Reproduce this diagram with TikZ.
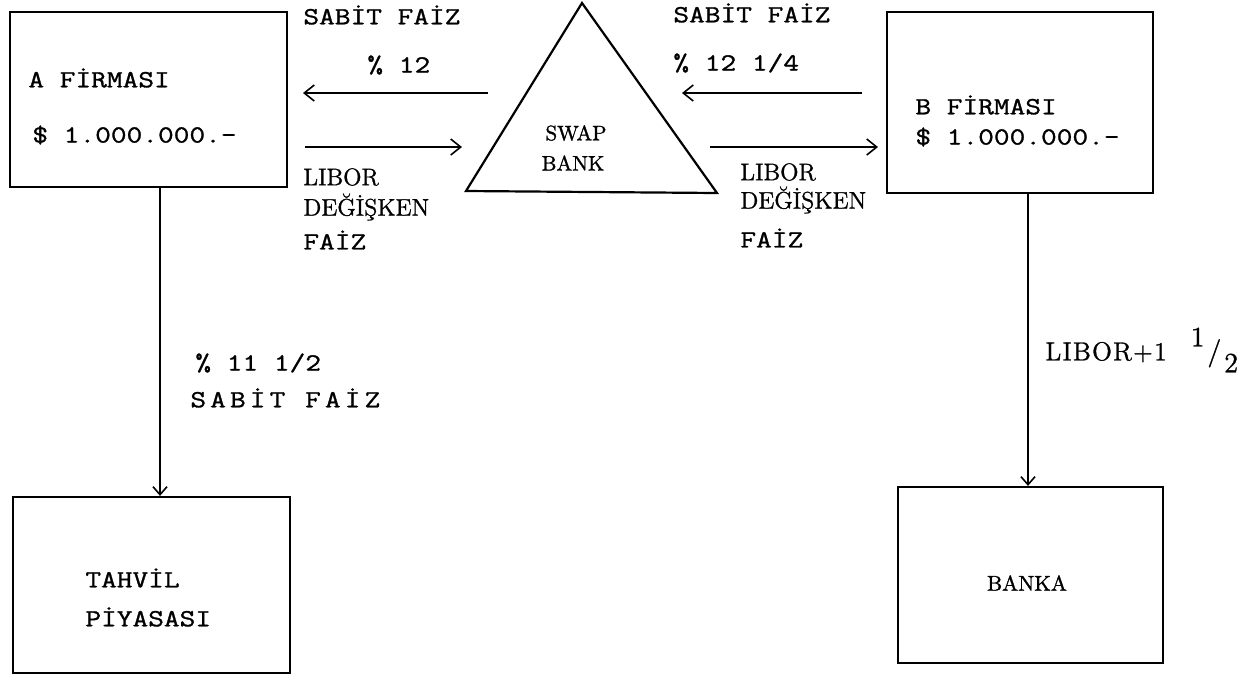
\documentclass[tikz,border=0pt]{standalone}
\usepackage{fontspec}
\setmonofont{Latin Modern Mono}[FakeStretch=1.24,FakeBold=1.2]
\newfontfamily\rmwide{Latin Modern Roman}[FakeBold=1.2]
\usetikzlibrary{arrows.meta}
\begin{document}
\begin{tikzpicture}[x=0.5pt,y=-0.5pt,
  box/.style={draw,line width=1.1pt,inner sep=0pt},
  mt/.style={inner sep=0pt,anchor=west,font=\fontsize{12.3}{14}\selectfont\ttfamily},
  rt/.style={inner sep=0pt,anchor=west,font=\fontsize{12}{14}\selectfont\rmwide},
  st/.style={inner sep=0pt,anchor=center,font=\fontsize{10.5}{12}\selectfont\rmwide},
  arr/.style={line width=0.8pt,-{Straight Barb[length=5pt,width=8pt,line width=0.8pt]}},
  varr/.style={line width=0.6pt,-{Straight Barb[length=4pt,width=7pt,line width=0.8pt]}}]
\useasboundingbox (0,0) rectangle (1243,676);

% boxes
\node[box,minimum width=138.5pt,minimum height=87.5pt] (aBox) at (148.5,99.5) {};
\node[box,minimum width=133pt,minimum height=90.5pt] (bBox) at (1020,102.5) {};
\node[box,minimum width=138.5pt,minimum height=88pt] (tBox) at (151.5,585) {};
\node[box,minimum width=132.5pt,minimum height=88pt] (kBox) at (1030.5,575) {};

% triangle
\coordinate (tA) at (582,3);
\coordinate (tL) at (466,191);
\coordinate (tR) at (717,193);
\draw[line width=1.1pt,line join=miter] (tA) -- (tL) -- (tR) -- cycle;
\node[st] (swap) at (576,133) {SWAP};
\node[st] (bank) at (573,163) {BANK};

% box texts
\node[mt] (aName) at (28,78) {A FİRMASI};
\node[mt] (aAmt) at (32,135) {\$ 1.000.000.-};
\node[mt] (bName) at (915,105) {B FİRMASI};
\node[mt] (bAmt) at (915,137) {\$ 1.000.000.-};
\node[mt] (tName1) at (85,578) {TAHVİL};
\node[mt] (tName2) at (85,617) {PİYASASI};
\node[st,font=\fontsize{10.7}{12}\selectfont\rmwide] (kName) at (1027,583) {BANKA};

% horizontal arrows
\coordinate (p1) at (488,93);  \coordinate (p2) at (303,93);
\coordinate (p3) at (305,147); \coordinate (p4) at (462,147);
\coordinate (p5) at (862,93);  \coordinate (p6) at (682,93);
\coordinate (p7) at (710,147); \coordinate (p8) at (878,147);
\draw[arr] (p1) -- (p2);
\draw[arr] (p3) -- (p4);
\draw[arr] (p5) -- (p6);
\draw[arr] (p7) -- (p8);

% left labels
\node[mt] (lSab) at (303,15) {SABİT FAİZ};
\node[mt] (lPct) at (367,65) {\% 12};
\node[rt] (lLib) at (303,177) {LIBOR};
\node[rt] (lDeg) at (303,207) {DEĞİŞKEN};
\node[mt] (lFaiz) at (303,240) {FAİZ};

% right labels
\node[mt] (rSab) at (673,13) {SABİT FAİZ};
\node[mt] (rPct) at (673,63) {\% 12 1/4};
\node[rt] (rLib) at (740,172) {LIBOR};
\node[rt] (rDeg) at (740,200) {DEĞİŞKEN};
\node[mt] (rFaiz) at (740,238) {FAİZ};

% vertical arrows
\coordinate (aX) at (160,0);
\coordinate (bX) at (1028,0);
\draw[varr] (aBox.south -| aX) -- (tBox.north -| aX);
\draw[varr] (bBox.south -| bX) -- (kBox.north -| bX);

\node[mt] (aPct) at (195,363) {\% 11 1/2};
\node[mt] (aSab) at (190,398) {S\,A\,B\,İ\,T\, F\,A\,İ\,Z};

\node[rt,font=\fontsize{13}{14}\selectfont\rmwide] (bLib) at (1045,350)
  {L\kern0.6pt I\kern0.6pt B\kern0.6pt O\kern0.6pt R\kern0.6pt+\kern0.6pt 1\hspace{12pt}\raisebox{7pt}{\fontsize{14}{15}\selectfont 1}\kern1.5pt{\fontsize{14}{15}\selectfont /}\kern1.5pt\raisebox{-6pt}{\fontsize{14}{15}\selectfont 2}};
\end{tikzpicture}
\end{document}
